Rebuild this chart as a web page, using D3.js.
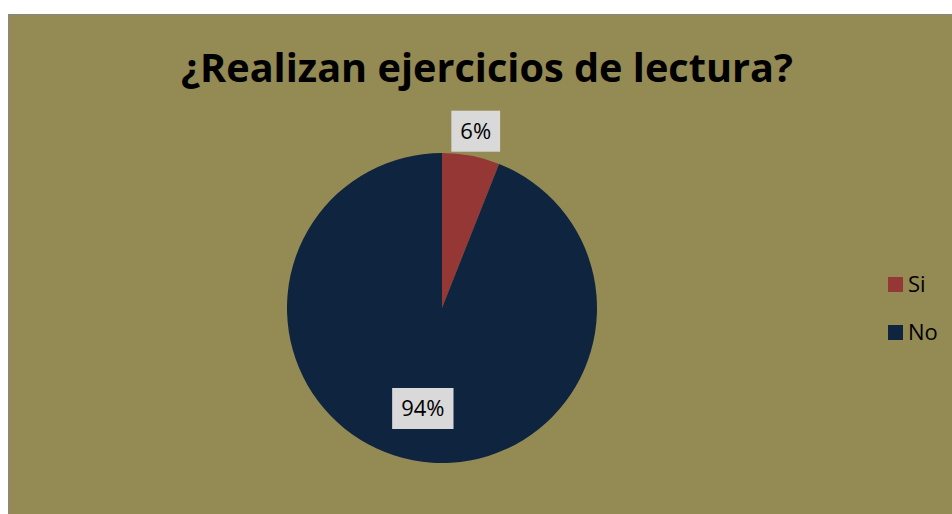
<!DOCTYPE html>
<html>
<head>
<meta charset="utf-8">
<script src="https://cdn.jsdelivr.net/npm/d3@7"></script>
<style>
  body { margin: 0; background: #fff; }
  svg { display: block; }
</style>
</head>
<body>
<div id="chart"></div>
<script>
var width = 952;
var height = 514;

// data
var categories = ["Si", "No"];
var values = [6, 94];
var sliceColors = ["#953735", "#0F243E"];
var titleText = "¿Realizan ejercicios de lectura?";

var svg = d3.select("#chart")
  .append("svg")
  .attr("width", width)
  .attr("height", height);

// chart area with the grey frame on left and top
svg.append("rect")
  .attr("x", 8.5)
  .attr("y", 14.5)
  .attr("width", width + 20)
  .attr("height", height + 20)
  .attr("fill", "#948A54")
  .attr("stroke", "#868686")
  .attr("stroke-width", 1);

// title, fitted to the width it takes in the original
var title = svg.append("text")
  .attr("x", 487)
  .attr("y", 82)
  .attr("text-anchor", "middle")
  .style("font-family", "'Open Sans', 'DejaVu Sans', sans-serif")
  .style("font-weight", "bold")
  .style("font-size", "40px")
  .attr("fill", "#000")
  .text(titleText);
var tw = title.node().getComputedTextLength();
title.style("font-size", (40 * 612 / tw) + "px");

var cx = 442, cy = 308, radius = 155;

var color = d3.scaleOrdinal().domain(categories).range(sliceColors);

var pie = d3.pie().sort(null).value(function(d) { return d.value; });

var data = categories.map(function(c, i) {
  return { name: c, value: values[i] };
});
var total = d3.sum(values);

var arc = d3.arc().innerRadius(0).outerRadius(radius);
var outerLabelArc = d3.arc().innerRadius(radius + 25).outerRadius(radius + 25);
var innerLabelArc = d3.arc().innerRadius(radius * 0.66).outerRadius(radius * 0.66);

var g = svg.append("g")
  .attr("transform", "translate(" + cx + "," + cy + ")");

var arcs = pie(data);

g.selectAll("path.slice")
  .data(arcs)
  .enter().append("path")
  .attr("class", "slice")
  .attr("d", arc)
  .attr("fill", function(d) { return color(d.data.name); });

// data labels in light grey boxes
var labels = g.selectAll("g.label")
  .data(arcs)
  .enter().append("g")
  .attr("class", "label")
  .attr("transform", function(d) {
    var small = d.data.value / total < 0.1;
    var p = small ? outerLabelArc.centroid(d) : innerLabelArc.centroid(d);
    return "translate(" + p[0] + "," + p[1] + ")";
  });

labels.append("rect").attr("fill", "#D9D9D9");

labels.append("text")
  .attr("text-anchor", "middle")
  .attr("dy", "0.36em")
  .style("font-family", "'Open Sans', 'DejaVu Sans', sans-serif")
  .style("font-size", "22px")
  .attr("fill", "#000")
  .text(function(d) { return Math.round(d.data.value / total * 100) + "%"; });

labels.each(function() {
  var grp = d3.select(this);
  var w = grp.select("text").node().getComputedTextLength();
  grp.select("rect")
    .attr("x", -w / 2 - 9)
    .attr("y", -20.5)
    .attr("width", w + 18)
    .attr("height", 41);
});

// legend
var legend = svg.append("g")
  .attr("transform", "translate(888,277)");

var item = legend.selectAll("g.item")
  .data(categories)
  .enter().append("g")
  .attr("class", "item")
  .attr("transform", function(d, i) { return "translate(0," + (i * 48) + ")"; });

item.append("rect")
  .attr("width", 15)
  .attr("height", 15)
  .attr("fill", function(d) { return color(d); });

item.append("text")
  .attr("x", 20)
  .attr("y", 7.5)
  .attr("dy", "0.36em")
  .style("font-family", "'Open Sans', 'DejaVu Sans', sans-serif")
  .style("font-size", "22px")
  .attr("fill", "#000")
  .text(function(d) { return d; });
</script>
</body>
</html>
